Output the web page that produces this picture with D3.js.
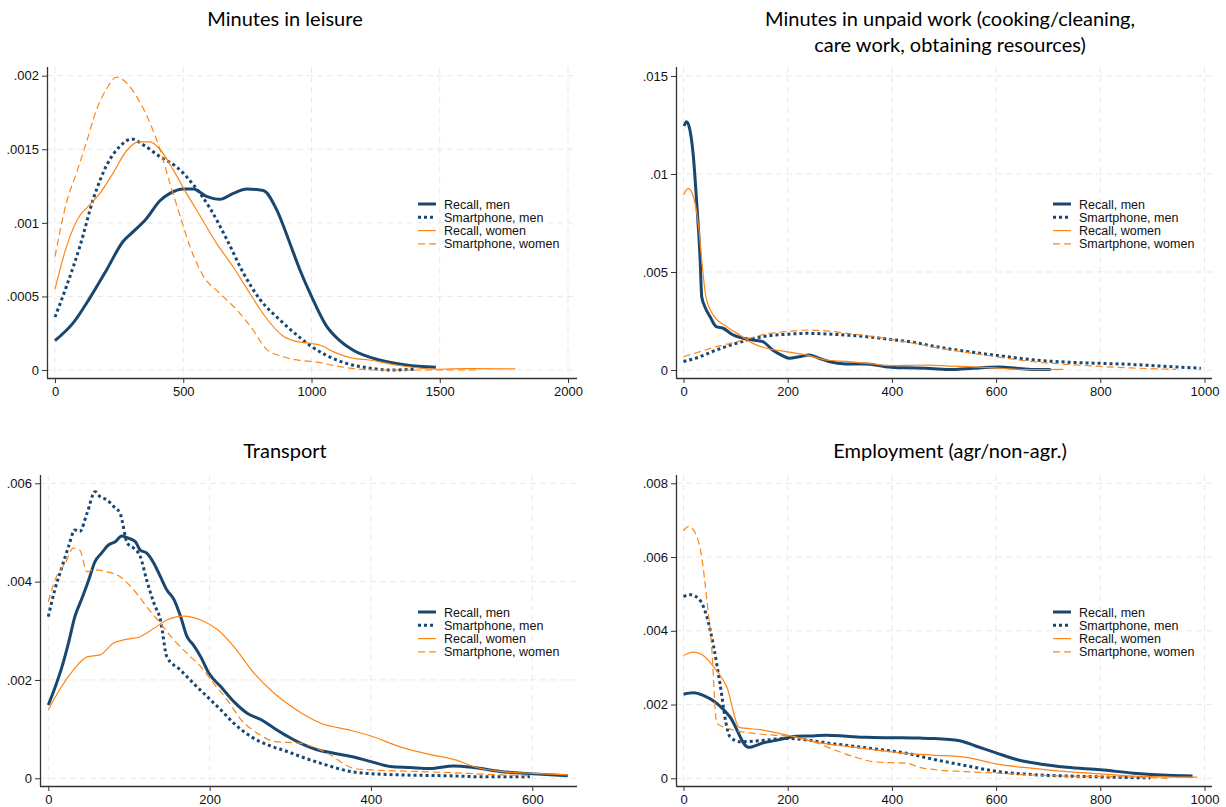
<!DOCTYPE html>
<html>
<head>
<meta charset="utf-8">
<script src="https://cdn.jsdelivr.net/npm/d3@7"></script>
<style>
  body { margin: 0; background: #fff; }
  .tick text { font-family: "Liberation Sans", Arial, sans-serif; font-size: 13px; fill: #111; }
  .title { font-family: Lato, "Open Sans", sans-serif; font-size: 20px; fill: #000; }
  .leg { font-family: "Liberation Sans", Arial, sans-serif; font-size: 12.5px; fill: #111; }
</style>
</head>
<body>
<script>
var width = 1226, height = 807;
var navy = "#1a476f", orange = "#ff8514";

var seriesNames = ["Recall, men", "Smartphone, men", "Recall, women", "Smartphone, women"];

// ---- leisure (minutes) ----
var leisureRecallMen = [[0,.0002],[71,.00032],[136,.00049],[201,.00068],[266,.000875],[305,.00094],[357,.00103],[409,.00115],[448,.0012],[500,.00123],[539,.00123],[591,.00118],[643,.00116],[695,.0012],[747,.00123],[812,.00122],[864,.00109],[916,.00086],[955,.00068],[1000,.0005],[1058,.0003],[1110,.0002],[1161,.000136],[1265,.000068],[1368,.000034],[1485,.000018]];
var leisurePhoneMen = [[0,.00036],[45,.00057],[97,.00084],[149,.00116],[201,.00139],[253,.00152],[299,.00157],[344,.00153],[409,.00145],[474,.00138],[539,.00126],[604,.0011],[669,.00089],[734,.00066],[799,.00048],[877,.00034],[955,.00022],[1000,.00016],[1058,.0001],[1136,.000045],[1239,.00001],[1304,0],[1407,.000005]];
var leisureRecallWomen = [[0,.00055],[45,.00084],[97,.00105],[123,.0011],[175,.0012],[227,.00134],[279,.00149],[325,.00155],[370,.00155],[409,.0015],[461,.00136],[513,.0012],[565,.00105],[630,.00086],[695,.0007],[760,.00052],[825,.00035],[890,.00023],[955,.00019],[1000,.00018],[1032,.00017],[1084,.000125],[1161,.00008],[1226,.000068],[1329,.000034],[1497,.000005],[1588,.00001],[1795,.000007]];
var leisurePhoneWomen = [[0,.00077],[45,.00114],[84,.00134],[123,.00155],[162,.00177],[201,.00191],[240,.00199],[279,.00195],[331,.00182],[370,.00168],[409,.0015],[448,.00127],[487,.00105],[526,.00084],[578,.00064],[643,.00052],[708,.00041],[773,.00027],[825,.00014],[890,.00009],[955,.000065],[1006,.000057],[1110,.000023],[1239,0],[1497,0],[1655,0]];

// ---- unpaid work (minutes) ----
var unpaidRecallMen = [[1,.01245],[6,.01267],[13,.01216],[19,.01088],[25,.00867],[32,.00561],[35,.00374],[41,.00323],[51,.00272],[63,.00221],[76,.00213],[95,.00179],[114,.00162],[133,.00153],[152,.00145],[171,.00102],[187,.00077],[203,.0006],[222,.00068],[241,.00077],[260,.0006],[279,.00043],[311,.00031],[349,.00031],[387,.00017],[425,.00011],[466,.00009],[517,.00002],[556,.00009],[607,.00015],[639,.00009],[671,.00003],[705,.00003]];
var unpaidPhoneMen = [[0,.00043],[32,.00068],[63,.00102],[95,.00131],[127,.00156],[159,.00173],[197,.00182],[235,.00187],[273,.00184],[318,.00177],[362,.00167],[400,.00155],[440,.00142],[478,.00122],[543,.00095],[600,.00075],[671,.00052],[736,.0004],[800,.00034],[864,.00028],[929,.00018],[993,.00009]];
var unpaidRecallWomen = [[0,.00893],[9,.00927],[19,.00884],[29,.00731],[35,.00561],[43,.00374],[57,.00281],[83,.00221],[108,.00179],[133,.00136],[159,.00111],[197,.00094],[235,.00077],[273,.00051],[318,.00043],[362,.00031],[400,.00022],[438,.00024],[470,.00025],[510,.0002],[543,.00017],[607,.00009],[659,.00002],[729,.00003]];
var unpaidPhoneWomen = [[0,.00068],[32,.00094],[63,.00119],[95,.00139],[127,.00162],[159,.00184],[197,.00196],[241,.00204],[279,.00198],[318,.00186],[362,.00171],[400,.00155],[440,.00138],[478,.00118],[543,.0009],[600,.00068],[671,.00042],[736,.00029],[800,.00018],[864,.0001],[945,.00003]];

// ---- transport (minutes) ----
var transRecallMen = [[0,.00149],[8,.00183],[17,.00227],[25,.00275],[33,.00329],[41,.00363],[50,.00403],[58,.00441],[66,.00458],[75,.00475],[83,.00481],[91,.00493],[100,.00488],[108,.00481],[114,.00464],[122,.00458],[131,.00437],[139,.0041],[147,.00383],[156,.00363],[164,.00329],[172,.00288],[180,.00271],[189,.00247],[199,.00214],[214,.00186],[230,.00156],[247,.00132],[264,.00119],[280,.00102],[297,.00085],[313,.00071],[333,.00058],[354,.00051],[374,.00045],[400,.00034],[424,.00024],[449,.00022],[473,.0002],[502,.00025],[527,.00022],[560,.00014],[601,.00009],[644,.00005]];
var transPhoneMen = [[0,.00329],[8,.00383],[17,.0043],[25,.00471],[33,.00505],[39,.00502],[48,.00539],[58,.00583],[64,.00573],[73,.00566],[81,.00553],[89,.00539],[98,.00478],[106,.00468],[114,.00451],[122,.00403],[131,.00356],[139,.00322],[147,.00247],[164,.0022],[180,.00193],[197,.00166],[214,.00139],[230,.00112],[251,.00085],[272,.00068],[297,.00054],[313,.00044],[337,.00031],[374,.00014],[395,.0001],[436,.00007],[498,.00005],[539,.00003],[597,.00003]];
var transRecallWomen = [[0,.00139],[14,.0018],[31,.0022],[48,.00247],[64,.00251],[81,.00275],[98,.00283],[114,.00288],[131,.00305],[147,.00322],[168,.0033],[189,.00322],[210,.00302],[230,.00268],[255,.00214],[280,.00173],[305,.00142],[338,.00112],[374,.00098],[400,.00086],[436,.00064],[477,.00047],[506,.00037],[527,.00024],[560,.00014],[601,.0001],[644,.00007]];
var transPhoneWomen = [[0,.00359],[10,.0041],[21,.00437],[31,.00468],[39,.00464],[48,.0042],[56,.00424],[73,.0042],[89,.0041],[106,.00383],[122,.00349],[139,.00315],[156,.00281],[172,.00254],[189,.00227],[205,.00193],[222,.00159],[239,.00119],[259,.00092],[280,.00075],[313,.00071],[346,.00051],[379,.0002],[400,.00017],[457,.00014],[519,.0001],[560,.00007],[597,.00005]];

// ---- employment (minutes) ----
var empRecallMen = [[0,.00228],[19,.00232],[38,.00225],[64,.00203],[89,.00167],[125,.00084],[153,.00096],[185,.00105],[217,.00114],[249,.00115],[275,.00117],[313,.00114],[351,.00111],[403,.0011],[454,.00109],[478,.00108],[530,.00102],[562,.00087],[600,.00069],[639,.00051],[684,.00039],[736,.0003],[800,.00023],[864,.00014],[929,.00008],[977,.00006]];
var empPhoneMen = [[0,.00493],[13,.00498],[32,.00482],[45,.00437],[58,.00356],[70,.00257],[83,.0014],[89,.00113],[109,.00099],[147,.00102],[198,.00108],[236,.00104],[275,.00096],[326,.00087],[377,.00078],[428,.00068],[478,.00052],[543,.00034],[600,.00019],[671,.0001],[768,.00005],[896,.00001]];
var empRecallWomen = [[0,.00333],[19,.00342],[38,.00333],[58,.00302],[83,.00248],[107,.00138],[147,.00132],[179,.00123],[211,.00113],[262,.00096],[313,.00087],[364,.00078],[415,.00069],[478,.00063],[543,.00057],[600,.00039],[671,.00027],[736,.00018],[800,.00012],[864,.00006],[986,.00003]];
var empPhoneWomen = [[0,.00671],[10,.00683],[22,.00667],[35,.00599],[45,.00482],[54,.00356],[64,.00149],[96,.00131],[134,.00122],[173,.00117],[211,.00113],[249,.00099],[288,.00078],[326,.00059],[364,.00045],[403,.00042],[428,.00041],[454,.00029],[478,.00024],[543,.00018],[600,.00014],[671,.00009],[736,.00006],[800,.00005],[864,.00003],[929,0]];

var leisureXTicks = [0, 500, 1000, 1500, 2000], leisureYTicks = [0, .0005, .001, .0015, .002];
var unpaidXTicks = [0, 200, 400, 600, 800, 1000], unpaidYTicks = [0, .005, .01, .015];
var transXTicks = [0, 200, 400, 600], transYTicks = [0, .002, .004, .006];
var empXTicks = [0, 200, 400, 600, 800, 1000], empYTicks = [0, .002, .004, .006, .008];

var styles = [
  {color: navy, w: 3, dash: null},
  {color: navy, w: 3, dash: "3,3"},
  {color: orange, w: 1.2, dash: null},
  {color: orange, w: 1.2, dash: "7,4"}
];

var svg = d3.select("body").append("svg")
  .attr("width", width).attr("height", height);

var fmtY = function(v){ return v === 0 ? "0" : String(v).replace(/^0/, ""); };

var drawPanel = function(p){
  var g = svg.append("g");
  var x = d3.scaleLinear().domain(p.xDom).range(p.xr);
  var y = d3.scaleLinear().domain(p.yDom).range(p.yr);

  // grid
  g.selectAll(".vg").data(p.xTicks).enter().append("line")
    .attr("x1", d => x(d)).attr("x2", d => x(d))
    .attr("y1", p.T).attr("y2", p.B)
    .attr("stroke", "#e9e9e9").attr("stroke-dasharray", "6,4");
  g.selectAll(".hg").data(p.yTicks).enter().append("line")
    .attr("x1", p.L).attr("x2", p.R)
    .attr("y1", d => y(d)).attr("y2", d => y(d))
    .attr("stroke", "#e9e9e9").attr("stroke-dasharray", "6,4");

  // axes
  var xAxis = g.append("g").attr("transform", "translate(0," + p.B + ")")
    .call(d3.axisBottom(x).tickValues(p.xTicks).tickSize(5).tickPadding(4).tickFormat(d3.format("d")));
  xAxis.select(".domain").attr("d", "M" + p.L + ",0.5H" + p.R).attr("stroke", "#333").attr("stroke-width", 1.3);
  var yAxis = g.append("g").attr("transform", "translate(" + p.L + ",0)")
    .call(d3.axisLeft(y).tickValues(p.yTicks).tickSize(5).tickPadding(3).tickFormat(fmtY));
  yAxis.select(".domain").attr("d", "M0.5," + p.T + "V" + p.B).attr("stroke", "#333").attr("stroke-width", 1.3);
  g.selectAll(".tick line").attr("stroke", "#333");

  // lines
  var line = d3.line().x(d => x(d[0])).y(d => y(d[1])).curve(d3.curveMonotoneX);
  p.series.forEach(function(s, i){
    g.append("path").datum(s)
      .attr("d", line)
      .attr("fill", "none")
      .attr("stroke", styles[i].color)
      .attr("stroke-width", styles[i].w)
      .attr("stroke-dasharray", styles[i].dash)
      .attr("stroke-linejoin", "round");
  });

  // title
  p.title.forEach(function(t, i){
    svg.append("text").attr("class", "title")
      .attr("x", p.tx).attr("y", p.ty + i * 26)
      .attr("text-anchor", "middle").text(t);
  });

  // legend
  var lg = svg.append("g").attr("transform", "translate(" + (p.R - 159) + "," + (p.T + 137) + ")");
  seriesNames.forEach(function(n, i){
    lg.append("line").attr("x1", 0).attr("x2", 18)
      .attr("y1", i * 13.3).attr("y2", i * 13.3)
      .attr("stroke", styles[i].color).attr("stroke-width", styles[i].w)
      .attr("stroke-dasharray", styles[i].dash);
    lg.append("text").attr("class", "leg")
      .attr("x", 26).attr("y", i * 13.3 + 4.5).text(n);
  });
};

drawPanel({L: 47, R: 577, T: 67, B: 378, xDom: [0, 2000], xr: [55, 568], yDom: [0, .002], yr: [370, 75.7],
  xTicks: leisureXTicks, yTicks: leisureYTicks, title: ["Minutes in leisure"], tx: 285, ty: 26,
  series: [leisureRecallMen, leisurePhoneMen, leisureRecallWomen, leisurePhoneWomen]});
drawPanel({L: 676, R: 1212, T: 67, B: 378, xDom: [0, 1000], xr: [683.5, 1204.5], yDom: [0, .015], yr: [370, 76],
  xTicks: unpaidXTicks, yTicks: unpaidYTicks, title: ["Minutes in unpaid work (cooking/cleaning,", "care work, obtaining resources)"], tx: 950, ty: 26,
  series: [unpaidRecallMen, unpaidPhoneMen, unpaidRecallWomen, unpaidPhoneWomen]});
drawPanel({L: 40, R: 577, T: 475, B: 786, xDom: [0, 600], xr: [48.3, 532.3], yDom: [0, .006], yr: [778.3, 483.3],
  xTicks: transXTicks, yTicks: transYTicks, title: ["Transport"], tx: 285, ty: 458,
  series: [transRecallMen, transPhoneMen, transRecallWomen, transPhoneWomen]});
drawPanel({L: 676, R: 1212, T: 475, B: 786, xDom: [0, 1000], xr: [683.5, 1204.5], yDom: [0, .008], yr: [778.3, 483.3],
  xTicks: empXTicks, yTicks: empYTicks, title: ["Employment (agr/non-agr.)"], tx: 950, ty: 458,
  series: [empRecallMen, empPhoneMen, empRecallWomen, empPhoneWomen]});
</script>
</body>
</html>
